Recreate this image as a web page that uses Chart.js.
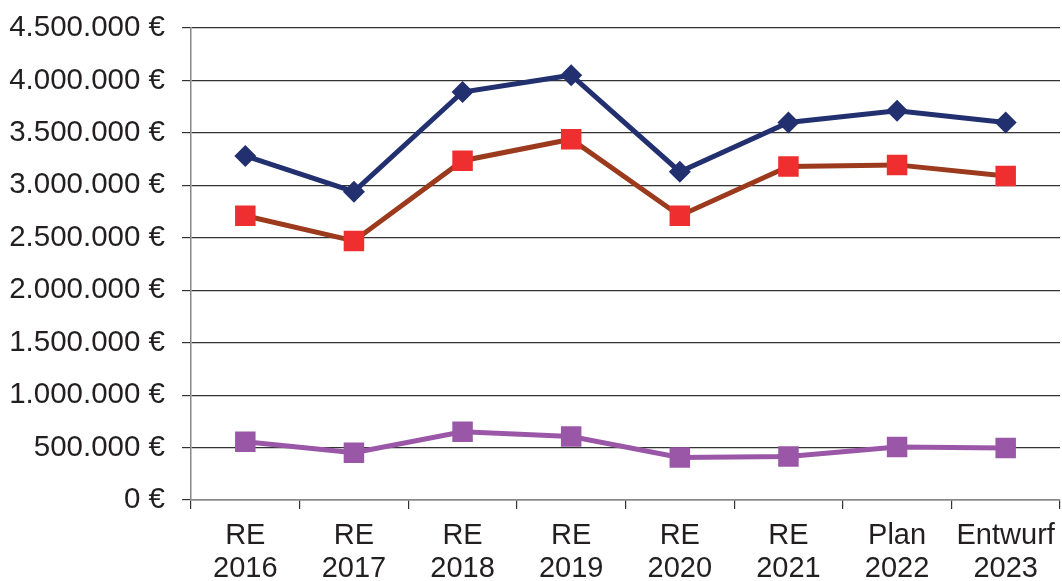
<!DOCTYPE html>
<html>
<head>
<meta charset="utf-8">
<script src="https://cdn.jsdelivr.net/npm/chart.js@4"></script>
<style>
  html, body { margin: 0; padding: 0; background: #fff; }
  #wrap { width: 1062px; height: 581px; }
</style>
</head>
<body>
<div id="wrap"><canvas id="chart" width="1062" height="581"></canvas></div>
<script>
// Categories (two-line labels)
const categories = [
    ['RE', '2016'], ['RE', '2017'], ['RE', '2018'], ['RE', '2019'],
    ['RE', '2020'], ['RE', '2021'], ['Plan', '2022'], ['Entwurf', '2023']
];

// Series values
const seriesTop = [3280000, 2940000, 3890000, 4050000, 3130000, 3600000, 3710000, 3600000];
const seriesMiddle = [2710000, 2470000, 3235000, 3440000, 2710000, 3180000, 3195000, 3090000];
const seriesBottom = [555000, 450000, 650000, 605000, 405000, 415000, 505000, 495000];

// Y axis range
const yMin = 0;
const yMax = 4500000;
const yStep = 500000;

function formatEuro( value ) {
    return value.toString().replace(/\B(?=(\d{3})+(?!\d))/g, '.') + ' €';
}

// Drop the extra room Chart.js reserves for overhanging labels
function noScalePadding( scale ) {
    scale.paddingLeft = 0;
    scale.paddingRight = 0;
    scale.paddingTop = 0;
    scale.paddingBottom = 0;
}

const ctx = document.getElementById('chart').getContext('2d');
const chart = new Chart(ctx, {
    type: 'line',
    data: {
        labels: categories,
        datasets: [
            {
                label: 'A',
                data: seriesTop,
                borderColor: '#22306f',
                backgroundColor: '#22306f',
                borderWidth: 5,
                pointStyle: 'rectRot',
                pointRadius: 11,
                pointBorderWidth: 0,
                tension: 0,
            },
            {
                label: 'B',
                data: seriesMiddle,
                borderColor: '#9c3a1e',
                backgroundColor: '#ee2e2f',
                borderWidth: 5,
                pointStyle: 'rect',
                pointRadius: 14.5,
                pointBorderWidth: 0,
                tension: 0,
            },
            {
                label: 'C',
                data: seriesBottom,
                borderColor: '#9b57a7',
                backgroundColor: '#9b57a7',
                borderWidth: 5,
                pointStyle: 'rect',
                pointRadius: 14.5,
                pointBorderWidth: 0,
                tension: 0,
            },
        ],
    },
    options: {
        responsive: false,
        animation: false,
        layout: {
            autoPadding: false,
            padding: { top: 28, right: 2, bottom: 0, left: 0 },
        },
        plugins: {
            legend: { display: false },
            tooltip: { enabled: false },
        },
        scales: {
            x: {
                offset: true,
                grid: {
                    offset: true,
                    drawOnChartArea: false,
                    drawTicks: true,
                    tickLength: 9,
                    color: '#333',
                    lineWidth: 1.2,
                },
                border: { color: '#888', width: 1.5 },
                ticks: {
                    color: '#231f20',
                    font: { family: 'Liberation Sans', size: 29, lineHeight: 1.14 },
                    padding: 10,
                    maxRotation: 0,
                    autoSkip: false,
                },
                afterFit: (scale) => { scale.height = 81; noScalePadding(scale); },
            },
            y: {
                min: yMin,
                max: yMax,
                grid: {
                    color: '#333',
                    lineWidth: 1.2,
                    tickLength: 9,
                },
                border: { color: '#888', width: 1.5 },
                ticks: {
                    stepSize: yStep,
                    color: '#231f20',
                    font: { family: 'Liberation Sans', size: 29.5 },
                    padding: 17,
                    callback: (value) => formatEuro(value),
                },
                afterFit: (scale) => { scale.width = 191; noScalePadding(scale); },
            },
        },
    },
});
</script>
</body>
</html>
